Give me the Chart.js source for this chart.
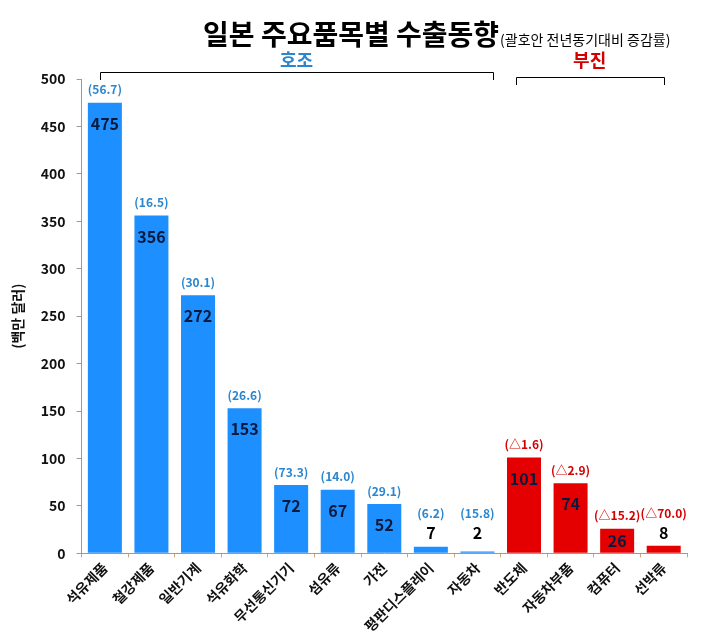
<!DOCTYPE html>
<html>
<head>
<meta charset="utf-8">
<script src="https://cdn.jsdelivr.net/npm/chart.js@4.4.1/dist/chart.umd.min.js"></script>
<style>
  html, body { margin: 0; padding: 0; background: #fff; }
  #wrap { width: 703px; height: 643px; }
</style>
</head>
<body>
<div id="wrap"><canvas id="c" width="703" height="643"></canvas></div>
<script>
const categories = ["석유제품", "철강제품", "일반기계", "석유화학", "무선통신기기", "섬유류", "가전", "평판디스플레이", "자동차", "반도체", "자동차부품", "컴퓨터", "선박류"];
const exports = [475, 356, 272, 153, 72, 67, 52, 7, 2, 101, 74, 26, 8];
const changes = ["(56.7)", "(16.5)", "(30.1)", "(26.6)", "(73.3)", "(14.0)", "(29.1)", "(6.2)", "(15.8)", "(△1.6)", "(△2.9)", "(△15.2)", "(△70.0)"];
const groups = [
  { name: "호조", from: 0, to: 8 },
  { name: "부진", from: 9, to: 12 }
];
const yTicks = [0, 50, 100, 150, 200, 250, 300, 350, 400, 450, 500];

const BLUE = "#1E8FFF";
const RED = "#E40000";
const BLUE_TXT = "#2A86CF";
const RED_TXT = "#D40000";
const FONT = "'Noto Sans CJK KR', 'Noto Sans', sans-serif";

const isGood = (i) => i <= groups[0].to;

const labelPlugin = {
  id: "labels",
  afterDatasetsDraw(chart) {
    const ctx = chart.ctx;
    const meta = chart.getDatasetMeta(0);
    ctx.save();
    ctx.textAlign = "center";
    ctx.textBaseline = "middle";
    meta.data.forEach((bar, i) => {
      const top = bar.y;
      const h = bar.base - bar.y;
      let vy, py;
      const small = exports[i] < 20;
      if (small) {
        vy = Math.min(top, bar.base - 7) - 13;
        py = vy - 19;
      } else {
        vy = top + Math.min(21, h / 2);
        py = top - 13;
      }
      ctx.font = "bold 16px " + FONT;
      ctx.fillStyle = small ? "#000" : "#0B1A3C";
      ctx.fillText(String(exports[i]), bar.x, vy);
      ctx.font = "bold 12px " + FONT;
      ctx.fillStyle = isGood(i) ? BLUE_TXT : RED_TXT;
      ctx.fillText(changes[i], bar.x, py);
    });
    ctx.restore();
  },
  afterDraw(chart) {
    const ctx = chart.ctx;
    const x = chart.scales.x;
    const step = x.getPixelForValue(1) - x.getPixelForValue(0);
    ctx.save();
    // title
    ctx.textBaseline = "alphabetic";
    ctx.textAlign = "left";
    ctx.fillStyle = "#000";
    ctx.font = "bold 28px " + FONT;
    ctx.fillText("일본 주요품목별 수출동향", 203, 45);
    const w = ctx.measureText("일본 주요품목별 수출동향").width;
    ctx.font = "14px " + FONT;
    ctx.fillText("(괄호안 전년동기대비 증감률)", 203 + w + 1, 45);

    // group brackets
    const spec = [
      { y: 72, l: -0.1, r: 0.33, color: BLUE_TXT },
      { y: 77, l: -0.18, r: 0, color: RED_TXT }
    ];
    groups.forEach((g, k) => {
      const s = spec[k];
      const left = x.getPixelForValue(g.from) + s.l * step;
      const right = x.getPixelForValue(g.to) + s.r * step;
      ctx.strokeStyle = "#000";
      ctx.lineWidth = 1;
      ctx.beginPath();
      ctx.moveTo(Math.round(left) + 0.5, s.y + 8);
      ctx.lineTo(Math.round(left) + 0.5, s.y + 0.5);
      ctx.lineTo(Math.round(right) + 0.5, s.y + 0.5);
      ctx.lineTo(Math.round(right) + 0.5, s.y + 8);
      ctx.stroke();
      ctx.font = "bold 18px " + FONT;
      ctx.fillStyle = s.color;
      ctx.textAlign = "center";
      ctx.textBaseline = "middle";
      ctx.fillText(g.name, (left + right) / 2, 60);
    });
    ctx.restore();
  }
};

new Chart(document.getElementById("c"), {
  type: "bar",
  data: {
    labels: categories,
    datasets: [{
      data: exports,
      backgroundColor: exports.map((v, i) => isGood(i) ? BLUE : RED),
      borderWidth: 0,
      barPercentage: 0.73,
      categoryPercentage: 1.0
    }]
  },
  options: {
    responsive: false,
    animation: false,
    layout: { padding: { top: 79, right: 16, left: 9, bottom: 6 } },
    plugins: {
      legend: { display: false },
      tooltip: { enabled: false },
      title: { display: false }
    },
    scales: {
      x: {
        grid: { display: true, drawOnChartArea: false, offset: true, tickLength: 4, color: "#C9A77E" },
        border: { display: true, color: "#9A9A9A", width: 1 },
        ticks: {
          color: "#111",
          font: { family: FONT, size: 14, weight: "bold" },
          minRotation: 45,
          maxRotation: 45,
          autoSkip: false,
          padding: 2
        }
      },
      y: {
        min: 0,
        max: 500,
        afterBuildTicks(axis) { axis.ticks = yTicks.map(v => ({ value: v })); },
        grid: { display: true, drawOnChartArea: false, tickLength: 5, color: "#9A9A9A" },
        border: { display: true, color: "#9A9A9A", width: 1 },
        ticks: {
          color: "#111",
          font: { family: FONT, size: 14, weight: "bold" },
          padding: 11
        },
        title: {
          display: true,
          text: "(백만 달러)",
          color: "#111",
          font: { family: FONT, size: 14, weight: "bold" },
          padding: { top: 0, bottom: 4 }
        }
      }
    }
  },
  plugins: [labelPlugin]
});
</script>
</body>
</html>
